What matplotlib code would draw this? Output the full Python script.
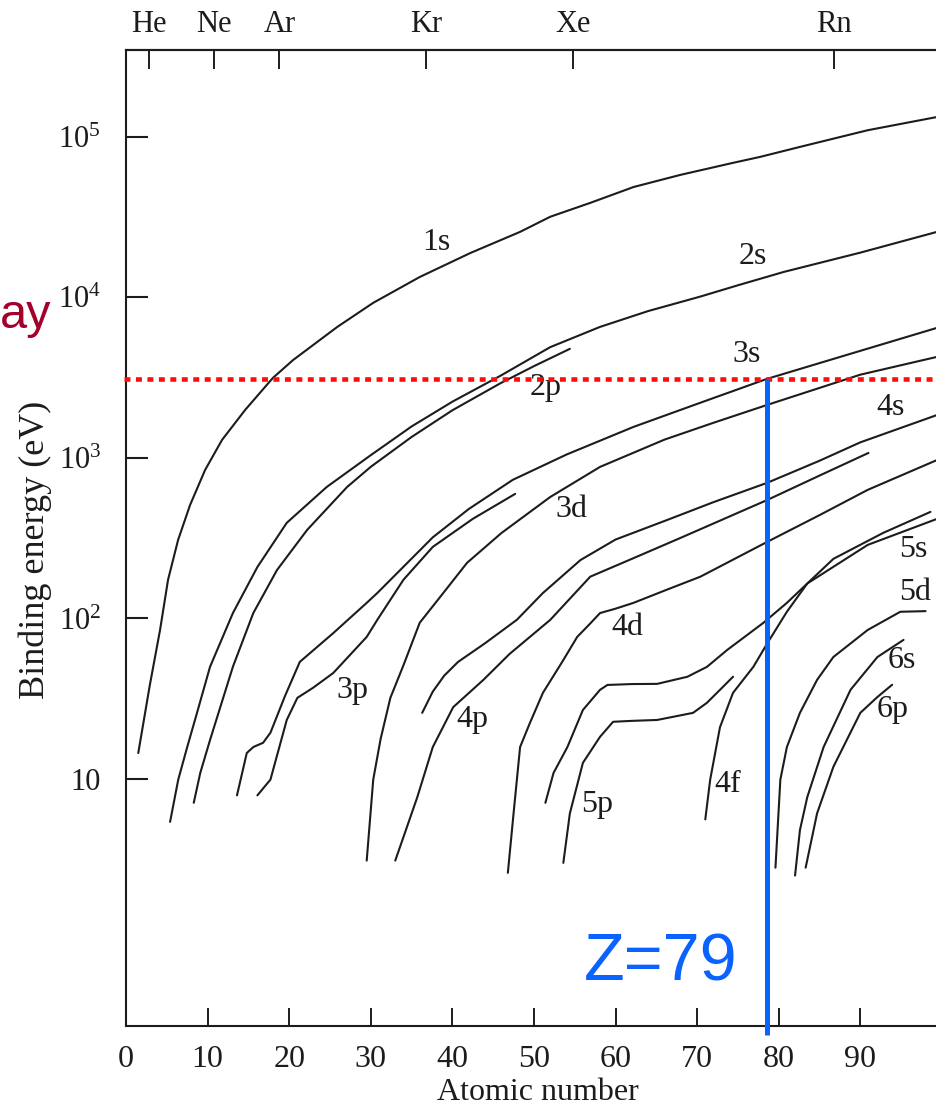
import numpy as np
import matplotlib.pyplot as plt
from matplotlib.ticker import NullLocator

plt.rcParams['font.family'] = ['Liberation Serif', 'DejaVu Serif']
plt.rcParams['mathtext.fontset'] = 'custom'
plt.rcParams['mathtext.rm'] = 'Liberation Serif'
plt.rcParams['mathtext.it'] = 'Liberation Serif:italic'

# binding energy (eV) vs atomic number
z_1s = [1.5, 2.9, 4.17, 5.15, 6.38, 7.85, 9.69, 11.77, 14.6, 18.0, 20.5, 25.9, 30.3, 36.0, 42.2, 48.3, 52.0, 56.9, 62.2, 67.9, 74.4, 77.7, 82.6, 90.9, 99.4]
e_1s = [14.5, 38, 84.7, 174, 308, 509, 841, 1295, 1990, 3150, 4080, 6550, 9250, 13400, 18900, 25600, 31800, 38800, 48700, 57900, 68900, 75000, 86600, 110000, 133000]

z_2s = [5.4, 6.4, 7.5, 8.7, 10.3, 13.1, 16.1, 19.7, 24.6, 30, 35, 40, 45.9, 52, 58.1, 64, 70.4, 75, 80.6, 90, 99.4]
e_2s = [5.4, 9.9, 15.8, 25.8, 50, 108, 209, 394, 659, 1040, 1570, 2240, 3250, 4900, 6550, 8220, 10120, 11900, 14400, 19000, 25600]

z_2p = [8.3, 9.1, 10.3, 13.1, 15.6, 18.5, 22.2, 27.1, 30, 35, 40, 45.9, 50, 54.4]
e_2p = [7.1, 10.9, 17.5, 50, 108, 200, 356, 659, 880, 1350, 1980, 2920, 3730, 4780]

z_3s = [13.6, 14.8, 15.6, 16.8, 17.7, 19.5, 21.3, 25.4, 29.5, 30.8, 33.6, 37.6, 42, 47.4, 54, 62.2, 70, 78.5, 88, 99.4]
e_3s = [7.9, 14.5, 15.8, 16.8, 19.4, 33, 53.6, 81, 125, 144, 200, 320, 480, 730, 1050, 1560, 2170, 3100, 4330, 6460]

z_3p = [16.1, 17.7, 19.7, 21.0, 22.9, 25.4, 29.5, 30.8, 34.0, 37.6, 42.5, 47.7]
e_3p = [7.9, 9.9, 23.3, 32, 36.9, 45.7, 76.7, 98, 174, 279, 417, 597]

z_3d = [29.5, 30.3, 31.2, 32.4, 34, 36, 38.5, 41.8, 46, 52, 58.1, 66, 72, 78.6, 90, 99.4]
e_3d = [3.1, 9.9, 17.7, 32, 51, 94, 136, 222, 340, 571, 879, 1300, 1655, 2140, 3300, 4260]

z_4s = [36.3, 37.6, 39, 40.7, 44, 47.9, 51.1, 55.7, 60, 66.3, 72, 78.6, 85, 90, 99.4]
e_4s = [25.8, 35, 44, 53.6, 70, 98, 144, 231, 310, 410, 530, 700, 960, 1250, 1850]

z_4p = [33, 34.3, 35.7, 37.6, 40.1, 43.8, 47, 52, 56.9, 62, 68, 78.6, 85, 91]
e_4p = [3.1, 4.8, 7.7, 15.8, 28, 41.4, 60, 98, 182, 235, 318, 547, 776, 1074]

z_4d = [46.8, 47.5, 48.3, 49.5, 51.1, 53.5, 55.3, 56.9, 58.1, 60, 62.2, 66, 70.4, 78.6, 85, 90.9, 99.4]
e_4d = [2.6, 6.1, 15.8, 22.3, 34.4, 54, 76.7, 93, 108, 115, 125, 149, 182, 300, 440, 632, 970]

z_4f = [71.0, 71.6, 72.8, 74.4, 76.9, 78.6, 81, 83.5, 86.7, 92.8, 98.6]
e_4f = [5.6, 9.9, 21, 34.4, 50, 70, 110, 165, 235, 341, 461]

z_5s = [51.4, 52.4, 54.1, 56.0, 58.1, 59.0, 62, 65.1, 68.8, 71.2, 73.7, 78.1, 81, 83.5, 90.9, 99.4]
e_5s = [7.1, 10.9, 15.8, 26.9, 35.9, 38.5, 39, 39.1, 43.3, 49.9, 63.7, 93.7, 125, 165, 287, 417]

z_5p = [53.6, 54.4, 56.0, 58.1, 59.7, 62, 65.1, 69.5, 71.2, 72.8, 74.4]
e_5p = [3.0, 6.1, 12.6, 18.3, 22.7, 23, 23.3, 25.8, 29.8, 35.9, 43.3]

z_5d = [79.6, 80.2, 81.0, 82.6, 84.7, 86.7, 90.9, 94.9, 98.0]
e_5d = [2.8, 9.9, 15.8, 25.8, 41.4, 57.5, 84.7, 110, 111]

z_6s = [82.0, 82.6, 83.5, 85.5, 88.8, 92.1, 95.3]
e_6s = [2.5, 4.8, 7.7, 15.8, 35.9, 57.5, 73.5]

z_6p = [83.3, 84.7, 86.7, 90.0, 92.1, 93.9]
e_6p = [2.8, 6.1, 11.9, 25.8, 32.4, 38.6]

# curve labels
label_text = ['1s', '2s', '2p', '3s', '3p', '3d', '4s', '4p', '4d', '4f', '5s', '5p', '5d', '6s', '6p']
label_z = [38.1, 76.8, 51.4, 76.1, 27.8, 54.6, 93.7, 42.4, 61.5, 73.7, 96.5, 57.7, 96.7, 95.1, 94.0]
label_e = [21900, 17900, 2730, 4390, 35.8, 474, 2050, 23.3, 87.3, 9.2, 267, 6.9, 144, 55, 26.9]

# noble gases along the top
noble_names = ['He', 'Ne', 'Ar', 'Kr', 'Xe', 'Rn']
noble_z = [2, 10, 18, 36, 54, 86]

x_ticks = [0, 10, 20, 30, 40, 50, 60, 70, 80, 90]
y_ticks = [10, 1e2, 1e3, 1e4, 1e5]
y_tick_labels = ['10', r'10$^{2}$', r'10$^{3}$', r'10$^{4}$', r'10$^{5}$']

cut_energy = 3100   # red dotted line
z_marker = 78.6     # blue line, drawn where the scan puts Z=79

curves = [(z_1s, e_1s), (z_2s, e_2s), (z_2p, e_2p), (z_3s, e_3s), (z_3p, e_3p),
          (z_3d, e_3d), (z_4s, e_4s), (z_4p, e_4p), (z_4d, e_4d), (z_4f, e_4f),
          (z_5s, e_5s), (z_5p, e_5p), (z_5d, e_5d), (z_6s, e_6s), (z_6p, e_6p)]

fig = plt.figure(figsize=(9.37, 11.1), dpi=100)
ax = fig.add_axes([0.1345, 0.0757, 0.8655, 0.8793])
ax.set_yscale('log')
ax.set_xlim(0, 99.4)
ax.set_ylim(0.289, 3.48e5)

ink = '#1c1c1c'
for z, e in curves:
    ax.plot(z, e, color=ink, lw=1.5, solid_capstyle='round', solid_joinstyle='round')

for name, z, e in zip(label_text, label_z, label_e):
    ax.text(z, e, name, fontsize=23, ha='center', va='center', color=ink)

# axes styling
ax.spines['right'].set_visible(False)
for s in ['left', 'bottom', 'top']:
    ax.spines[s].set_linewidth(1.5)
    ax.spines[s].set_color(ink)

ax.set_xticks(x_ticks)
ax.tick_params(axis='x', direction='in', length=13, width=1.4, pad=14,
               labelsize=23, top=False, colors=ink)
ax.set_yticks(y_ticks, y_tick_labels)
ax.yaxis.set_minor_locator(NullLocator())
ax.tick_params(axis='y', direction='in', length=16, width=1.5, pad=18,
               labelsize=22, right=False, colors=ink)

top = ax.secondary_xaxis('top')
top.set_xticks(np.array(noble_z) + 0.8, noble_names)  # scan has them a bit right
top.tick_params(direction='in', length=14, width=1.4, pad=8, labelsize=22, colors=ink)
top.spines['top'].set_linewidth(1.5)

ax.set_xlabel('Atomic number', fontsize=23, color=ink)
ax.xaxis.set_label_coords(0.508, -0.0686)
ax.xaxis.label.set_va('center')
ax.set_ylabel('Binding energy (eV)', fontsize=26, color=ink)
ax.yaxis.set_label_coords(-0.112, 0.488)
ax.yaxis.label.set_va('center')

# overlays from the slide
ax.hlines(cut_energy, -0.3, 99.4, colors='#ff0d0d', lw=3.3,
          linestyles=(0, (1.3, 1.2)), clip_on=False, zorder=5)
ax.vlines(z_marker, 0.254, cut_energy, colors='#0a63ff', lw=3.6,
          clip_on=False, zorder=6)
ax.text(74.9, 0.551, 'Z=79', color='#0a63ff', fontsize=48,
        family='Liberation Sans', ha='right', va='baseline')
# only the tail of the slide's word is visible at the left edge
fig.text(0, 1 - 328 / 1110, 'ay', color='#a3002b', fontsize=35,
         family='Liberation Sans', ha='left', va='baseline')

fig.savefig('out.png', dpi=100)
